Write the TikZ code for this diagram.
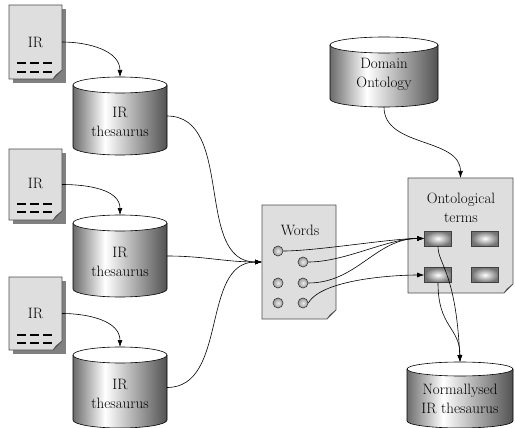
\documentclass[tikz,border=0pt]{standalone}
\usepackage{fontspec}
\usetikzlibrary{arrows.meta,calc}

% vertical stripes: dark edges, bright band left of centre
% (TikZ fits the band 25bp..75bp to the filled path)
\pgfdeclarehorizontalshading{cylshade}{100bp}{color(0bp)=(black!58); color(25bp)=(black!58); color(42bp)=(white); color(75bp)=(black!68); color(100bp)=(black!68)}

\tikzset{
  lbl/.style={font=\rmfamily\fontsize{15}{19}\selectfont, align=center, inner sep=0pt},
  anchorbox/.style={inner sep=0pt, outer sep=0pt},
  docbody/.style={draw=black!70, fill=black!13, line width=0.6pt},
  docshadow/.style={fill=black!50},
  dashline/.style={line width=2.4pt, dash pattern=on 9pt off 4pt},
  conn/.style={line width=0.6pt, -{Latex[length=7pt,width=5pt]}},
  term/.style={draw=black!75, line width=0.6pt, inner color=white, outer color=black!55,
               minimum width=27pt, minimum height=15pt, inner sep=0pt},
  wordpt/.style={circle, draw=black!80, line width=0.6pt, inner color=black!8, outer color=black!40,
                 minimum size=10pt, inner sep=0pt},
}

% page with folded corner: name, x0, y0, x1, y1
\newcommand\drawpage[5]{%
  \path[docbody] (#2,#3) -- (#4,#3) -- (#4,#5-9) -- (#4-9,#5) -- (#2,#5) -- cycle;
  \path[docbody] (#4,#5-9) -- (#4-6,#5-4) -- (#4-9,#5) -- cycle;
  \node[anchorbox, minimum width={(#4-#2)*1pt}, minimum height={(#5-#3)*1pt}]
    (#1) at ({(#2+#4)/2},{(#3+#5)/2}) {};
}
% drop shadow under a page: x0, y0, x1, y1
\newcommand\pageshadow[4]{%
  \path[docshadow] (#1+4,#2+4) -- (#3+4,#2+4) -- (#3+4,#4+4) -- (#1+4,#4+4) -- cycle;
}
% database drum: name, xl, xr, ytop, ybottom, ry
\newcommand\drawdrum[6]{%
  \pgfmathsetmacro\drumcx{(#2+#3)/2}%
  \pgfmathsetmacro\drumw{(#3-#2)/2}%
  \path[shading=cylshade] (#2,#4) -- (#2,#5)
     arc[start angle=180, end angle=360, x radius={\drumw*1pt}, y radius={#6*1pt}] -- (#3,#4) -- cycle;
  \draw[line width=0.6pt] (#2,#4) -- (#2,#5)
     arc[start angle=180, end angle=360, x radius={\drumw*1pt}, y radius={#6*1pt}] -- (#3,#4);
  \draw[line width=0.6pt, fill=white] (\drumcx,#4) ellipse[x radius={\drumw*1pt}, y radius={#6*1pt}];
  \node[anchorbox, minimum width={(#3-#2)*1pt}, minimum height={(#5-#4)*1pt}]
    (#1) at (\drumcx,{(#4+#5)/2}) {};
}

\begin{document}
\begin{tikzpicture}[x=1pt, y=-1pt]
\useasboundingbox (0,0) rectangle (515,428);

% source documents
\pageshadow{9}{5}{62}{79}
\drawpage{d1}{9}{5}{62}{79}
\node[lbl] (d1t) at (35.5,42) {IR};
\draw[dashline] (17,63) -- (53,63);
\draw[dashline] (17,72) -- (53,72);

\pageshadow{9}{149}{62}{220}
\drawpage{d2}{9}{149}{62}{220}
\node[lbl] (d2t) at (35.5,183) {IR};
\draw[dashline] (17,204) -- (53,204);
\draw[dashline] (17,212) -- (53,212);

\pageshadow{9}{277}{62}{350}
\drawpage{d3}{9}{277}{62}{350}
\node[lbl] (d3t) at (35.5,313) {IR};
\draw[dashline] (17,335) -- (53,335);
\draw[dashline] (17,343) -- (53,343);

% thesauri
\drawdrum{c1}{73}{167}{85}{147}{8}
\node[lbl] (c1t) at (120,122) {IR\\thesaurus};
\drawdrum{c2}{73}{167}{223}{289}{8}
\node[lbl] (c2t) at (120,262) {IR\\thesaurus};
\drawdrum{c3}{73}{167}{355}{420}{8}
\node[lbl] (c3t) at (120,394) {IR\\thesaurus};

\drawdrum{dom}{330}{438}{45}{99}{8}
\node[lbl] (domt) at (384,74.5) {Domain\\Ontology};

\drawdrum{norm}{407}{513}{369}{421}{7}
\node[lbl] (normt) at (460,399) {Normallysed\\IR thesaurus};

% word list
\drawpage{words}{262}{205}{336}{319}
\node[lbl] (wordst) at (300,230) {Words};
\node[wordpt] (w1) at (278,251) {};
\node[wordpt] (w2) at (303,262) {};
\node[wordpt] (w3) at (278,283) {};
\node[wordpt] (w4) at (303,283) {};
\node[wordpt] (w5) at (278,303) {};
\node[wordpt] (w6) at (303,303) {};

% ontological terms
\drawpage{onto}{408}{178}{513}{293}
\node[lbl] (ontot) at (461,208) {Ontological\\terms};
\node[term] (t1) at (438,238.5) {};
\node[term] (t2) at (485,238.5) {};
\node[term] (t3) at (438,275) {};
\node[term] (t4) at (485,275) {};

% connectors
\draw[conn] (d1.east) to[out=0, in=90] ([yshift=8pt]c1.north);
\draw[conn] (d2.east) to[out=0, in=90] ([yshift=8pt]c2.north);
\draw[conn] (d3.east) to[out=0, in=90] ([yshift=8pt]c3.north);

\draw[conn] (c1.east) to[out=0, in=180] (words.west);
\draw[conn] (c2.east) to[out=0, in=180] (words.west);
\draw[conn] (c3.east) to[out=0, in=180] (words.west);

\draw[conn] ([yshift=-8pt]dom.south) to[out=-90, in=90] (onto.north);

\draw[conn] (w1.east) to[out=0, in=180, looseness=0.6] (t1.west);
\draw[conn] (w2.east) to[out=0, in=180, looseness=0.8] (t1.west);
\draw[conn] (w4.east) to[out=0, in=180, looseness=1] (t1.west);
\draw[conn] (w6.east) to[out=60, in=180, looseness=0.6] (t3.west);

\draw[conn] (t1.south) .. controls +(0,18) and +(-4,-90) .. ([yshift=7pt]norm.north);
\draw[conn] (t3.south) .. controls +(0,45) and +(0,-35) .. ([yshift=7pt]norm.north);
\end{tikzpicture}
\end{document}
